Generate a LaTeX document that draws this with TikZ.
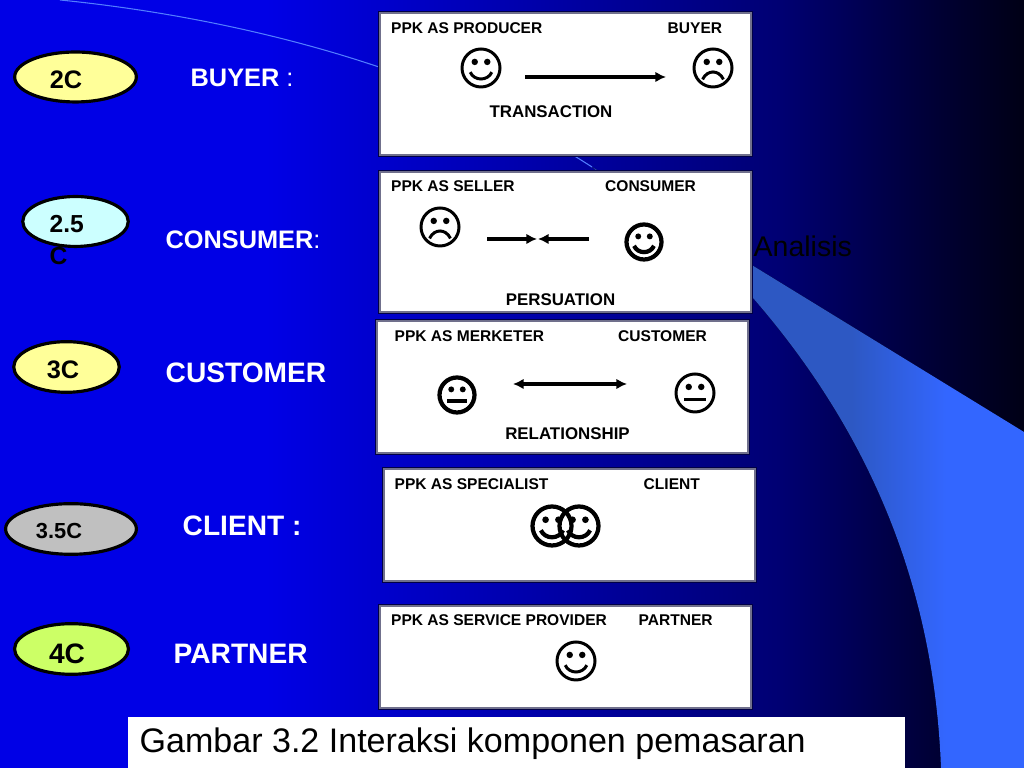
\documentclass[tikz,border=0pt]{standalone}
\usepackage{fontspec}
\setmainfont{Liberation Sans}
\usetikzlibrary{arrows.meta,shapes.geometric}
\definecolor{slideblue}{RGB}{0,0,230}
\definecolor{slidemid}{RGB}{0,0,115}
\definecolor{slidelow}{RGB}{0,0,50}
\definecolor{bandblue}{RGB}{51,102,255}
\definecolor{banddim}{RGB}{45,88,195}
\definecolor{framegrey}{RGB}{112,112,140}
\definecolor{framedark}{RGB}{0,0,70}
\definecolor{paleyellow}{RGB}{255,255,153}
\definecolor{palecyan}{RGB}{204,255,255}
\definecolor{palegrey}{RGB}{192,192,192}
\definecolor{palegreen}{RGB}{204,255,102}
\pgfdeclarehorizontalshading{slidebg}{100bp}{color(0bp)=(slideblue); color(38bp)=(slideblue); color(63bp)=(slidemid); color(71bp)=(slidelow); color(78bp)=(black); color(100bp)=(black)}
\pgfdeclarehorizontalshading{bandbg}{100bp}{color(0bp)=(banddim); color(55bp)=(banddim); color(66bp)=(bandblue); color(100bp)=(bandblue)}
\tikzset{
	ppkbox/.style={draw=framegrey,line width=0.7pt,fill=white,preaction={draw=framedark,line width=1.2pt}},
	cball/.style={ellipse,draw=black,line width=0.9pt,inner sep=0pt},
	ctext/.style={font=\bfseries\fontsize{7.2}{8.8}\selectfont,text=black,inner sep=0pt},
	rolehead/.style={anchor=west,inner sep=0pt,font=\bfseries\fontsize{4.42}{5.4}\selectfont},
	rolefoot/.style={inner sep=0pt,font=\bfseries\fontsize{4.8}{5.8}\selectfont},
	roleword/.style={anchor=west,inner sep=0pt,text=white,font=\bfseries\fontsize{8}{9.6}\selectfont},
	thinface/.style={line width=0.85pt},
	boldface/.style={line width=1.2pt},
	linkarrow/.style={line width=0.9pt,-{Latex[length=3pt,width=3pt]}},
	smiley/.pic={
		\draw (0,0) circle (1);
		\fill (-0.33,-0.32) circle (0.17);
		\fill (0.33,-0.32) circle (0.17);
		\draw (-0.57,0.22) .. controls (-0.35,0.7) and (0.35,0.7) .. (0.57,0.22);
	},
	frowny/.pic={
		\draw (0,0) circle (1);
		\fill (-0.33,-0.32) circle (0.17);
		\fill (0.33,-0.32) circle (0.17);
		\draw (-0.55,0.6) .. controls (-0.3,0.08) and (0.3,0.08) .. (0.55,0.6);
	},
	neutral/.pic={
		\draw (0,0) circle (1);
		\fill (-0.33,-0.32) circle (0.17);
		\fill (0.33,-0.32) circle (0.17);
		\draw (-0.57,0.33) -- (0.57,0.33);
	}
}
\begin{document}
\begin{tikzpicture}[x=0.01cm,y=-0.01cm]
	\useasboundingbox (0,0) rectangle (1024,768);
	% background and swoosh
	\fill[shading=slidebg] (0,0) rectangle (1024,768);
	\fill[shading=bandbg] (592,167) -- (1024,432) -- (1024,768) -- (941,768)
		.. controls (935,610) and (885,450) .. (753,298) -- cycle;
	\draw[bandblue!85!white,line width=0.3pt] (60,0) .. controls (200,14) and (420,56) .. (592,167);
	% boxes
	\foreach \xa/\ya/\xb/\yb in {380/13/751/155,380/172/751/312,377/321/748/453,384/469/755/581,380/606/751/708}{
		\draw[ppkbox] (\xa,\ya) rectangle (\xb,\yb);
	}
	\fill[white] (128,717) rectangle (905,768);
	% ovals on the left
	\node[cball,fill=paleyellow,minimum width=34.6pt,minimum height=14.2pt] (twoc) at (75.5,77) {};
	\node[cball,fill=palecyan,minimum width=30pt,minimum height=14.2pt] (twohalfc) at (75.5,221.5) {};
	\node[cball,fill=paleyellow,minimum width=30pt,minimum height=14.4pt] (threec) at (66.5,367) {};
	\node[cball,fill=palegrey,minimum width=37.2pt,minimum height=14.4pt] (threehalfc) at (71,529) {};
	\node[cball,fill=palegreen,minimum width=32.4pt,minimum height=14.4pt] (fourc) at (71.5,649) {};
	\node[ctext] (twoctext) at (66,80) {2C};
	\node[ctext,anchor=north west,align=left,font=\bfseries\fontsize{7}{8.9}\selectfont] (twohalfctext) at (49,215) {2.5\\C};
	\node[ctext] (threectext) at (63,370) {3C};
	\node[ctext,font=\bfseries\fontsize{6.2}{7.4}\selectfont] (threehalfctext) at (59,531) {3.5C};
	\node[ctext,font=\bfseries\fontsize{8}{9.6}\selectfont] (fourctext) at (67,654) {4C};
	% words next to the ovals
	\node[roleword,font=\bfseries\fontsize{7.2}{8.8}\selectfont] (buyerword) at (190,78) {BUYER \mdseries:};
	\node[roleword,font=\bfseries\fontsize{7.2}{8.8}\selectfont] (consumerword) at (165,240) {CONSUMER\mdseries:};
	\node[roleword] (customerword) at (165,373) {CUSTOMER};
	\node[roleword] (clientword) at (182,526) {CLIENT :};
	\node[roleword] (partnerword) at (173,654) {PARTNER};
	\node[anchor=west,inner sep=0pt,text=black,font=\fontsize{8.1}{9.8}\selectfont] (analisis) at (753,246) {Analisis};
	\node[anchor=west,inner sep=0pt,text=black,font=\fontsize{9.68}{11.6}\selectfont] (caption) at (139,744) {Gambar 3.2 Interaksi komponen pemasaran};
	% box 1
	\node[rolehead] (producer) at (390.5,28) {PPK AS PRODUCER};
	\node[rolehead] (buyer) at (667,28) {BUYER};
	\node[rolefoot] (transaction) at (551,112) {TRANSACTION};
	\pic[thinface,scale=19] at (481,68) {smiley};
	\pic[thinface,scale=19] at (713,68) {frowny};
	\coordinate (transfrom) at (525,77);
	\coordinate (transto) at (666,77);
	\draw[linkarrow] (transfrom) -- (transto);
	% box 2
	\node[rolehead] (seller) at (390.5,186) {PPK AS SELLER};
	\node[rolehead] (consumer) at (604.5,186) {CONSUMER};
	\node[rolefoot] (persuation) at (560.5,300) {PERSUATION};
	\pic[thinface,scale=19] at (440,227) {frowny};
	\pic[boldface,scale=17.5] at (644,242) {smiley};
	\coordinate (persleft) at (487,239);
	\coordinate (persmidl) at (537,239);
	\coordinate (persright) at (589,239);
	\coordinate (persmidr) at (538,239);
	\draw[linkarrow] (persleft) -- (persmidl);
	\draw[linkarrow] (persright) -- (persmidr);
	% box 3
	\node[rolehead] (merketer) at (394,336) {PPK AS MERKETER};
	\node[rolehead] (customer) at (617.5,336) {CUSTOMER};
	\node[rolefoot] (relationship) at (567.5,434) {RELATIONSHIP};
	\pic[boldface,scale=17.5] at (457,395) {neutral};
	\pic[thinface,scale=19] at (695,393) {neutral};
	\coordinate (relleft) at (513,384);
	\coordinate (relright) at (627,384);
	\draw[linkarrow,{Latex[length=3pt,width=3pt]}-{Latex[length=3pt,width=3pt]}] (relleft) -- (relright);
	% box 4
	\node[rolehead] (specialist) at (394,484) {PPK AS SPECIALIST};
	\node[rolehead] (client) at (643,484) {CLIENT};
	\pic[boldface,scale=19.5] at (552,526) {smiley};
	\pic[boldface,scale=19.5] at (579,526) {smiley};
	% box 5
	\node[rolehead] (provider) at (390.5,620) {PPK AS SERVICE PROVIDER};
	\node[rolehead] (partner) at (638,620) {PARTNER};
	\pic[thinface,scale=19] at (576,661) {smiley};
\end{tikzpicture}
\end{document}
